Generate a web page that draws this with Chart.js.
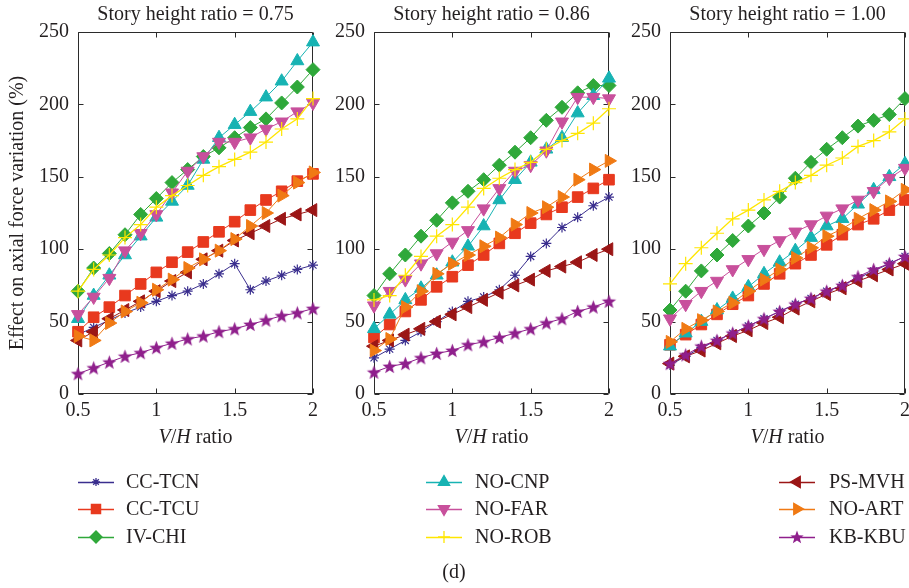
<!DOCTYPE html>
<html>
<head>
<meta charset="utf-8">
<script src="https://cdn.jsdelivr.net/npm/chart.js@4.4.1/dist/chart.umd.min.js"></script>
<style>
  html, body { margin: 0; padding: 0; background: #fff; width: 909px; height: 588px; overflow: hidden; }
  canvas { position: absolute; }
</style>
</head>
<body>
<canvas id="panel-075" width="330" height="460" style="left:0;top:0"></canvas>
<canvas id="panel-086" width="330" height="460" style="left:300px;top:0"></canvas>
<canvas id="panel-100" width="330" height="460" style="left:596px;top:0"></canvas>
<canvas id="legend" width="909" height="133" style="left:0;top:455px"></canvas>
<script>
// V/H ratio values (x axis)
const xValues = [0.5, 0.6, 0.7, 0.8, 0.9, 1.0, 1.1, 1.2, 1.3, 1.4, 1.5, 1.6, 1.7, 1.8, 1.9, 2.0];
const xTicks = [0.5, 1, 1.5, 2];
const yTicks = [0, 50, 100, 150, 200, 250];

const seriesNames = ['CC-TCN', 'CC-TCU', 'IV-CHI', 'NO-CNP', 'NO-FAR', 'NO-ROB', 'PS-MVH', 'NO-ART', 'KB-KBU'];
const panelTitles = ['Story height ratio = 0.75', 'Story height ratio = 0.86', 'Story height ratio = 1.00'];

// Story height ratio = 0.75
const ccTcn075 = [41, 46, 51, 56, 60, 64, 68, 71, 76, 83, 90, 72, 78, 82, 86, 89];
const ccTcu075 = [43, 53, 60, 68, 76, 84, 91, 98, 105, 112, 119, 127, 134, 140, 147, 152];
const ivChi075 = [71, 87, 97, 110, 124, 135, 146, 155, 164, 170, 177, 184, 190, 201, 212, 224];
const noCnp075 = [52, 68, 82, 96, 109, 122, 133, 144, 162, 177, 186, 195, 205, 216, 230, 243];
const noFar075 = [55, 67, 80, 99, 111, 124, 139, 154, 164, 174, 174, 177, 183, 188, 195, 201];
const noRob075 = [71, 86, 96, 108, 117, 129, 137, 144, 151, 157, 162, 167, 174, 183, 190, 204];
const psMvh075 = [37, 43, 52, 58, 64, 71, 78, 84, 93, 99, 106, 111, 116, 121, 124, 127];
const noArt075 = [40, 37, 49, 57, 63, 72, 79, 87, 93, 99, 107, 116, 125, 137, 146, 153];
const kbKbu075 = [14, 18, 22, 26, 28.5, 32, 35, 38, 40, 43, 45, 48, 51, 54, 56, 59];

// Story height ratio = 0.86
const ccTcn086 = [25, 31, 37, 43, 50, 57, 64, 67, 72, 82, 95, 104, 115, 122, 130, 136];
const ccTcu086 = [39, 48, 57, 65, 74, 81, 89, 96, 104, 111, 118, 124, 129, 136, 142, 148];
const ivChi086 = [68, 83, 96, 109, 120, 132, 140, 148, 158, 167, 177, 189, 198, 208, 213, 213];
const noCnp086 = [45, 55, 65, 73, 82, 91, 102, 116, 134, 148, 160, 169, 177, 194, 206, 218];
const noFar086 = [61, 71, 79, 90, 97, 105, 113, 128, 142, 154, 158, 168, 188, 205, 205, 204];
const noRob086 = [65, 68, 82, 95, 109, 117, 129, 142, 149, 155, 160, 169, 175, 180, 187, 197];
const psMvh086 = [33, 37, 41, 45, 50, 55, 60, 65, 70, 75, 79, 85, 88, 91, 96, 100];
const noArt086 = [30, 38, 60, 71, 83, 90, 96, 102, 108, 117, 125, 129, 136, 148, 155, 161];
const kbKbu086 = [15, 19, 21, 25, 28, 30, 34, 36, 39, 42, 45, 49, 52, 57, 60, 64];

// Story height ratio = 1.00
const ccTcn100 = [20, 26, 32, 37, 42, 47, 52, 57, 62, 66, 71, 75, 80, 85, 90, 95];
const ccTcu100 = [34, 41, 48, 55, 62, 68, 76, 83, 90, 96, 103, 110, 117, 121, 127, 134];
const ivChi100 = [58, 71, 85, 96, 106, 116, 125, 136, 149, 160, 169, 177, 185, 189, 193, 204];
const noCnp100 = [33, 42, 50, 58, 66, 74, 83, 91, 99, 108, 116, 121, 131, 141, 150, 159];
const noFar100 = [52, 62, 71, 78, 86, 93, 100, 106, 112, 117, 123, 128, 134, 140, 149, 156];
const noRob100 = [76, 90, 101, 111, 121, 127, 134, 140, 146, 151, 158, 163, 171, 175, 181, 190];
const psMvh100 = [21, 26, 30, 35, 40, 44, 49, 53, 59, 64, 69, 73, 78, 82, 86, 90];
const noArt100 = [36, 45, 51, 57, 63, 71, 79, 86, 94, 101, 109, 114, 121, 127, 133, 141];
const kbKbu100 = [21, 27, 33, 37, 42, 47, 52, 57, 62, 66, 71, 75, 81, 86, 90, 95];

// estilos das series
const seriesColors = ['#3a2e8e', '#e8391e', '#2fa83a', '#17b3b3', '#c8509c', '#ffe600', '#9b1616', '#f07a14', '#8f1f8c'];
const seriesMarkers = ['star', 'rect', 'rectRot', 'triangle', 'triangle', 'cross', 'triangle', 'triangle', 'fivestar'];
const markerRotation = [0, 0, 0, 0, 180, 0, -90, 90, 0];
const markerRadius = [5, 7.5, 7, 7.5, 7.5, 7, 7.5, 7.5, 7.5];

const FONT = '"Liberation Serif", "DejaVu Serif", serif';
const TEXT_COLOR = '#231f20';
const FRAME_COLOR = '#2b2b2b';

// estrela cheia de cinco pontas (Chart.js nao tem essa)
function makeStarImage(color, r) {
  const c = document.createElement('canvas');
  const s = Math.ceil(r * 2) + 2;
  c.width = s;
  c.height = s;
  const g = c.getContext('2d');
  g.beginPath();
  for (let k = 0; k < 10; k++) {
    const rr = k % 2 === 0 ? r : r * 0.42;
    const a = -Math.PI / 2 + k * Math.PI / 5;
    const px = s / 2 + rr * Math.cos(a);
    const py = s / 2 + 0.6 + rr * Math.sin(a);
    if (k === 0) g.moveTo(px, py); else g.lineTo(px, py);
  }
  g.closePath();
  g.fillStyle = color;
  g.fill();
  return c;
}

const starImage = makeStarImage(seriesColors[8], 7.5);
const starImageSmall = makeStarImage(seriesColors[8], 7);

function markerStyle(i, small) {
  if (seriesMarkers[i] === 'fivestar') return small ? starImageSmall : starImage;
  return seriesMarkers[i];
}

// caixa com ticks para dentro nos quatro lados
const framePlugin = {
  id: 'frame',
  beforeDatasetsDraw(chart) {
    const { ctx, chartArea: a } = chart;
    const xs = chart.scales.x;
    const ys = chart.scales.y;
    const L = Math.round(a.left) + 0.5, R = Math.round(a.right) - 0.5;
    const T = Math.round(a.top) + 0.5, B = Math.round(a.bottom) - 0.5;
    ctx.save();
    ctx.strokeStyle = FRAME_COLOR;
    ctx.lineWidth = 1;
    ctx.beginPath();
    ctx.rect(L, T, R - L, B - T);
    for (const v of xTicks) {
      const px = Math.round(xs.getPixelForValue(v)) + 0.5;
      ctx.moveTo(px, B); ctx.lineTo(px, B - 5);
      ctx.moveTo(px, T); ctx.lineTo(px, T + 5);
    }
    for (const v of yTicks) {
      const py = Math.round(ys.getPixelForValue(v)) + 0.5;
      ctx.moveTo(L, py); ctx.lineTo(L + 5, py);
      ctx.moveTo(R, py); ctx.lineTo(R - 5, py);
    }
    ctx.stroke();
    ctx.restore();
  },
};

// titulo do painel e "V/H ratio" com V e H em italico
const panelTextPlugin = {
  id: 'panelText',
  afterDraw(chart, args, opts) {
    const { ctx, chartArea: a } = chart;
    const cx = (a.left + a.right) / 2;
    ctx.save();
    ctx.fillStyle = TEXT_COLOR;
    ctx.textBaseline = 'middle';
    ctx.textAlign = 'center';
    ctx.font = '20px ' + FONT;
    ctx.fillText(opts.title, cx, 15);

    const parts = [['V', 'italic '], ['/', ''], ['H', 'italic '], [' ratio', '']];
    let total = 0;
    for (const p of parts) {
      ctx.font = p[1] + '20px ' + FONT;
      total += ctx.measureText(p[0]).width;
    }
    let x = cx - total / 2;
    ctx.textAlign = 'left';
    for (const p of parts) {
      ctx.font = p[1] + '20px ' + FONT;
      ctx.fillText(p[0], x, 438);
      x += ctx.measureText(p[0]).width;
    }
    ctx.restore();
  },
};

function makePanel(canvasId, title, seriesData, yAxisWidth, rightPad, showYTitle) {
  const datasets = seriesNames.map((name, i) => ({
    label: name,
    data: xValues.map((x, k) => ({ x: x, y: seriesData[i][k] })),
    borderColor: seriesColors[i],
    backgroundColor: seriesColors[i],
    borderWidth: i === 5 ? 1.3 : 1,
    pointStyle: markerStyle(i, false),
    pointRotation: markerRotation[i],
    pointRadius: markerRadius[i],
    pointBackgroundColor: seriesColors[i],
    pointBorderColor: seriesColors[i],
    pointBorderWidth: (i === 0 || i === 5) ? 1.2 : 1,
    tension: 0,
    clip: false,
    order: seriesNames.length - i, // as ultimas series ficam por cima
  }));

  return new Chart(document.getElementById(canvasId), {
    type: 'line',
    data: { datasets },
    plugins: [framePlugin, panelTextPlugin],
    options: {
      responsive: false,
      animation: false,
      events: [],
      layout: { padding: { top: 32, right: rightPad, left: 0, bottom: 0 } },
      plugins: {
        legend: { display: false },
        tooltip: { enabled: false },
        panelText: { title: title },
      },
      scales: {
        x: {
          type: 'linear',
          min: 0.5,
          max: 2,
          grid: { display: false, drawTicks: false },
          border: { display: false },
          ticks: {
            stepSize: 0.5,
            padding: 5,
            maxRotation: 0,
            autoSkip: false,
            color: TEXT_COLOR,
            font: { family: FONT, size: 20 },
            callback: (v) => String(v),
          },
          afterFit: (s) => { s.height = 66; },
        },
        y: {
          min: 0,
          max: 250,
          grid: { display: false, drawTicks: false },
          border: { display: false },
          ticks: {
            stepSize: 50,
            padding: 9,
            color: TEXT_COLOR,
            font: { family: FONT, size: 20 },
          },
          title: {
            display: showYTitle,
            text: 'Effect on axial force variation (%)',
            color: TEXT_COLOR,
            font: { family: FONT, size: 20 },
            padding: { top: 6, bottom: 0 },
          },
          afterFit: (s) => { s.width = yAxisWidth; },
        },
      },
    },
  });
}

makePanel('panel-075', panelTitles[0],
  [ccTcn075, ccTcu075, ivChi075, noCnp075, noFar075, noRob075, psMvh075, noArt075, kbKbu075], 78, 17, true);
makePanel('panel-086', panelTitles[1],
  [ccTcn086, ccTcu086, ivChi086, noCnp086, noFar086, noRob086, psMvh086, noArt086, kbKbu086], 74, 21, false);
makePanel('panel-100', panelTitles[2],
  [ccTcn100, ccTcu100, ivChi100, noCnp100, noFar100, noRob100, psMvh100, noArt100, kbKbu100], 74, 21, false);

// legenda em tres colunas, desenhada num chart vazio
const legendCenters = [96, 444, 797];
const legendTextX = [126, 475, 829];
const legendRows = [27, 54, 82];

const legendPlugin = {
  id: 'legendGrid',
  afterDraw(chart) {
    const ctx = chart.ctx;
    ctx.save();
    seriesNames.forEach((name, i) => {
      const col = Math.floor(i / 3);
      const row = i % 3;
      const cx = legendCenters[col];
      const cy = legendRows[row];
      ctx.strokeStyle = seriesColors[i];
      ctx.fillStyle = seriesColors[i];
      ctx.lineWidth = 1.3;
      ctx.beginPath();
      ctx.moveTo(cx - 18, cy + 0.5);
      ctx.lineTo(cx + 18, cy + 0.5);
      ctx.stroke();
      Chart.helpers.drawPoint(ctx, {
        pointStyle: markerStyle(i, true),
        rotation: markerRotation[i],
        radius: markerRadius[i] - 1,
        borderWidth: 1,
      }, cx, cy);
      ctx.fillStyle = TEXT_COLOR;
      ctx.font = '20px ' + FONT;
      ctx.textAlign = 'left';
      ctx.textBaseline = 'middle';
      ctx.fillText(name, legendTextX[col], cy + 1);
    });
    ctx.textAlign = 'center';
    ctx.fillText('(d)', 454, 118);
    ctx.restore();
  },
};

new Chart(document.getElementById('legend'), {
  type: 'line',
  data: { datasets: [] },
  plugins: [legendPlugin],
  options: {
    responsive: false,
    animation: false,
    events: [],
    plugins: { legend: { display: false }, tooltip: { enabled: false } },
    scales: { x: { display: false }, y: { display: false } },
  },
});
</script>
</body>
</html>
